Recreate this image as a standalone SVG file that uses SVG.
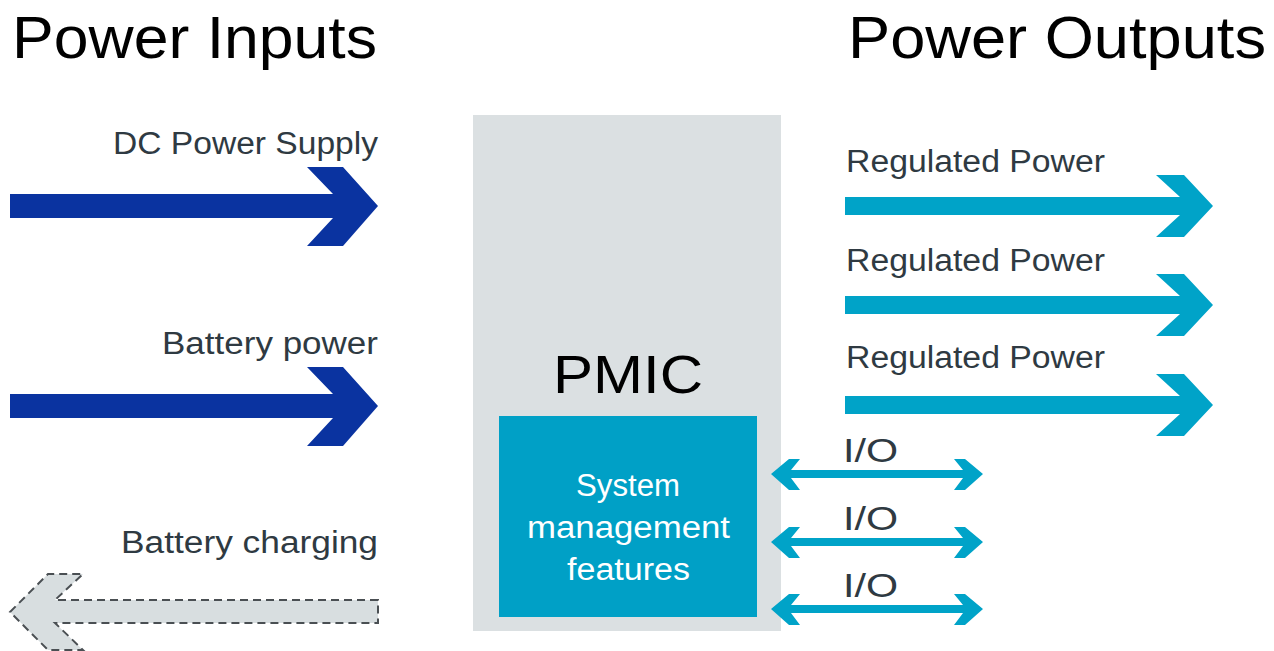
<svg xmlns="http://www.w3.org/2000/svg" width="1274" height="651" viewBox="0 0 1274 651">
<defs>
<style>
.h{font-family:"Liberation Sans",Arial,sans-serif;font-size:59px;fill:#000}
.lbl{font-family:"Liberation Sans",Arial,sans-serif;font-size:31px;fill:#2f3a42}
.io{font-family:"Liberation Sans",Arial,sans-serif;font-size:33px;fill:#2f3a42}
.in{fill:#0a33a0}
.out{fill:#00a3c8}
.wt{font-family:"Liberation Sans",Arial,sans-serif;font-size:31px;fill:#fff}
</style>
<polygon id="arrIn" points="0,-12 323,-12 297,-39 333,-39 368,0 333,40 297,40 323,12 0,12"/>
<polygon id="arrOut" points="0,-9 335,-9 311,-31 339,-31 368,0 339,31 311,31 335,9 0,9"/>
<polygon id="arrIO" points="20,-4 192,-4 183,-15 194,-15 212,0 194,16 183,16 192,4 20,4 29,16 18,16 0,0 18,-15 29,-15"/>
</defs>
<rect width="1274" height="651" fill="#fff"/>
<text class="h" x="12" y="58" textLength="365" lengthAdjust="spacingAndGlyphs">Power Inputs</text>
<text class="h" x="848" y="58" textLength="418" lengthAdjust="spacingAndGlyphs">Power Outputs</text>
<g id="pmic">
<rect x="473" y="115" width="308" height="516" fill="#dbe0e2"/>
<text x="553" y="393" font-family="Liberation Sans,Arial,sans-serif" font-size="54" fill="#000" textLength="150" lengthAdjust="spacingAndGlyphs">PMIC</text>
</g>
<g id="sysmgmt">
<rect x="499" y="416" width="258" height="201" fill="#00a0c6"/>
<text class="wt" x="576" y="496" textLength="104" lengthAdjust="spacingAndGlyphs">System</text>
<text class="wt" x="527" y="538" textLength="203" lengthAdjust="spacingAndGlyphs">management</text>
<text class="wt" x="567" y="580" textLength="123" lengthAdjust="spacingAndGlyphs">features</text>
</g>
<g id="connectors">
<g id="dc-supply"><use href="#arrIn" class="in" x="10" y="206"/><text class="lbl" x="113" y="154" textLength="265" lengthAdjust="spacingAndGlyphs">DC Power Supply</text></g>
<g id="battery-power"><use href="#arrIn" class="in" x="10" y="406"/><text class="lbl" x="162" y="354" textLength="216" lengthAdjust="spacingAndGlyphs">Battery power</text></g>
<g id="battery-charging">
<polygon points="378,600 55,600 83,574 48,574 10,612 48,650 83,650 55,623 378,623" fill="#d8dee0" stroke="#4a4f53" stroke-width="2" stroke-dasharray="8,5"/>
<text class="lbl" x="121" y="553" textLength="257" lengthAdjust="spacingAndGlyphs">Battery charging</text>
</g>
<g id="reg1"><use href="#arrOut" class="out" x="845" y="206"/><text class="lbl" x="846" y="172" textLength="259" lengthAdjust="spacingAndGlyphs">Regulated Power</text></g>
<g id="reg2"><use href="#arrOut" class="out" x="845" y="305"/><text class="lbl" x="846" y="271" textLength="259" lengthAdjust="spacingAndGlyphs">Regulated Power</text></g>
<g id="reg3"><use href="#arrOut" class="out" x="845" y="405"/><text class="lbl" x="846" y="368" textLength="259" lengthAdjust="spacingAndGlyphs">Regulated Power</text></g>
<g id="io1"><use href="#arrIO" class="out" x="771" y="474"/><text class="io" x="843" y="462" textLength="55" lengthAdjust="spacingAndGlyphs">I/O</text></g>
<g id="io2"><use href="#arrIO" class="out" x="771" y="542"/><text class="io" x="843" y="530" textLength="55" lengthAdjust="spacingAndGlyphs">I/O</text></g>
<g id="io3"><use href="#arrIO" class="out" x="771" y="609"/><text class="io" x="843" y="597" textLength="55" lengthAdjust="spacingAndGlyphs">I/O</text></g>
</g>
</svg>
